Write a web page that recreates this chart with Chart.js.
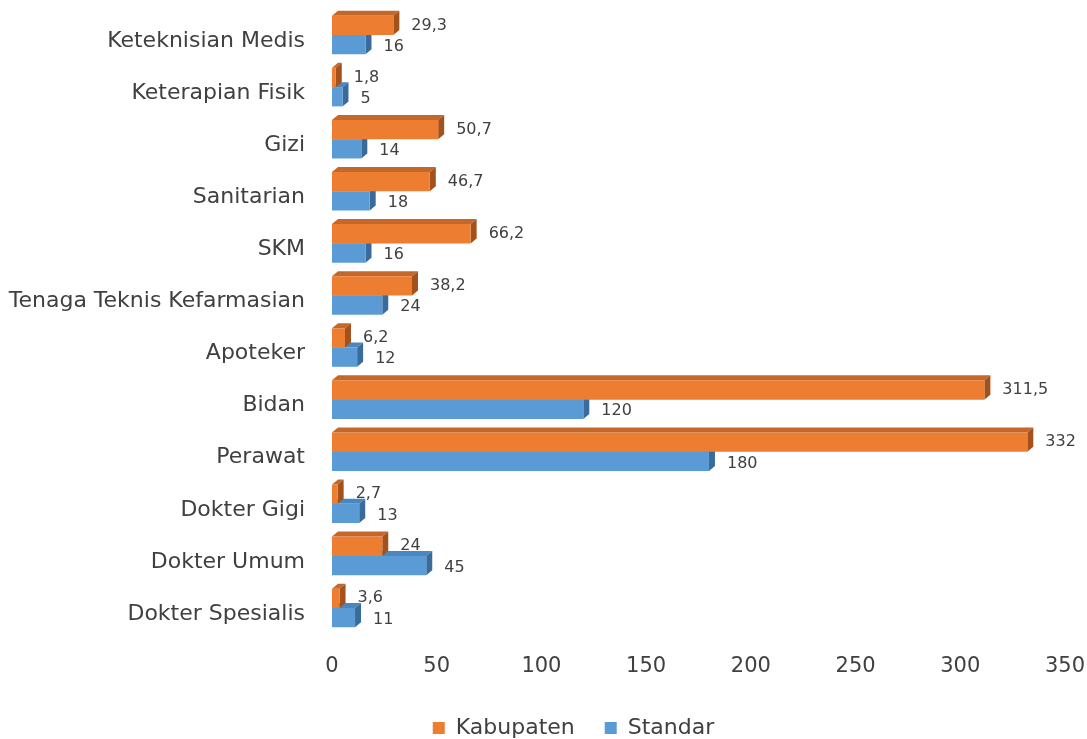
<!DOCTYPE html>
<html>
<head>
<meta charset="utf-8">
<script src="https://cdn.jsdelivr.net/npm/chart.js@4/dist/chart.umd.min.js"></script>
<style>
  html, body { margin: 0; padding: 0; background: #ffffff; }
  #wrap { width: 1087px; height: 739px; position: relative; }
</style>
</head>
<body>
<div id="wrap"><canvas id="c"></canvas></div>
<script>
const categories = ["Keteknisian Medis", "Keterapian Fisik", "Gizi", "Sanitarian", "SKM",
  "Tenaga Teknis Kefarmasian", "Apoteker", "Bidan", "Perawat", "Dokter Gigi", "Dokter Umum", "Dokter Spesialis"];
const kabupaten = [29.3, 1.8, 50.7, 46.7, 66.2, 38.2, 6.2, 311.5, 332, 2.7, 24, 3.6];
const standar = [16, 5, 14, 18, 16, 24, 12, 120, 180, 13, 45, 11];
const xTicks = [0, 50, 100, 150, 200, 250, 300, 350];

const FONT = "'DejaVu Sans', sans-serif";
const TXT = "#404040";
const DX = 6, DY = 5;
const faceColors = [
  { top: "#C4672B", side: "#A4521C" },
  { top: "#4C86BE", side: "#3A6C9B" }
];

const bar3d = {
  id: "bar3d",
  beforeDatasetDraw(chart, args) {
    const ctx = chart.ctx;
    const fc = faceColors[args.index];
    const meta = args.meta;
    ctx.save();
    meta.data.forEach(el => {
      const p = el.getProps(["x", "y", "base", "height"], true);
      const top = p.y - p.height / 2, bot = p.y + p.height / 2;
      const x0 = Math.min(p.base, p.x), x1 = Math.max(p.base, p.x);
      ctx.fillStyle = fc.top;
      ctx.beginPath();
      ctx.moveTo(x0, top);
      ctx.lineTo(x0 + DX, top - DY);
      ctx.lineTo(x1 + DX, top - DY);
      ctx.lineTo(x1, top);
      ctx.closePath();
      ctx.fill();
      ctx.fillStyle = fc.side;
      ctx.beginPath();
      ctx.moveTo(x1, top);
      ctx.lineTo(x1 + DX, top - DY);
      ctx.lineTo(x1 + DX, bot - DY);
      ctx.lineTo(x1, bot);
      ctx.closePath();
      ctx.fill();
    });
    ctx.restore();
  },
  afterDatasetsDraw(chart) {
    const ctx = chart.ctx;
    ctx.save();
    ctx.font = "16px " + FONT;
    ctx.fillStyle = TXT;
    ctx.textBaseline = "middle";
    ctx.textAlign = "left";
    chart.data.datasets.forEach((ds, di) => {
      const meta = chart.getDatasetMeta(di);
      meta.data.forEach((el, i) => {
        const p = el.getProps(["x", "y"], true);
        const txt = String(ds.data[i]).replace(".", ",");
        ctx.fillText(txt, p.x + DX + 12, p.y + (di === 1 ? 2 : 0));
      });
    });
    ctx.restore();
  }
};

const legendShift = {
  id: "legendShift",
  afterLayout(chart) {
    const lg = chart.legend;
    if (lg) { lg.left += 41; lg.right += 41; }
  }
};

new Chart(document.getElementById("c"), {
  type: "bar",
  data: {
    labels: categories,
    datasets: [
      { label: "Kabupaten", data: kabupaten, backgroundColor: "#ED7D31", borderWidth: 0 },
      { label: "Standar", data: standar, backgroundColor: "#5B9BD5", borderWidth: 0 }
    ]
  },
  options: {
    indexAxis: "y",
    responsive: true,
    maintainAspectRatio: false,
    animation: false,
    layout: { padding: { top: 9, left: 0, right: 22, bottom: -10 } },
    datasets: { bar: { categoryPercentage: 0.74, barPercentage: 1.0 } },
    plugins: {
      legend: {
        position: "bottom",
        labels: {
          boxWidth: 12, boxHeight: 12, padding: 30,
          color: TXT,
          font: { family: FONT, size: 22 }
        }
      },
      tooltip: { enabled: false }
    },
    scales: {
      x: {
        min: 0, max: 350,
        afterBuildTicks(scale) { scale.ticks = xTicks.map(v => ({ value: v })); },
        grid: { display: false, drawTicks: false },
        border: { display: false },
        ticks: { color: TXT, padding: 20, font: { family: FONT, size: 21 } },
        afterFit(scale) { scale.height = 53; scale.paddingLeft = 0; scale.paddingRight = 0; }
      },
      y: {
        grid: { display: false, drawTicks: false },
        border: { display: false },
        ticks: { color: TXT, padding: 27, labelOffset: 6, font: { family: FONT, size: 22 } },
        afterFit(scale) { scale.width = 332; scale.paddingTop = 0; scale.paddingBottom = 0; }
      }
    }
  },
  plugins: [bar3d, legendShift]
});
</script>
</body>
</html>
